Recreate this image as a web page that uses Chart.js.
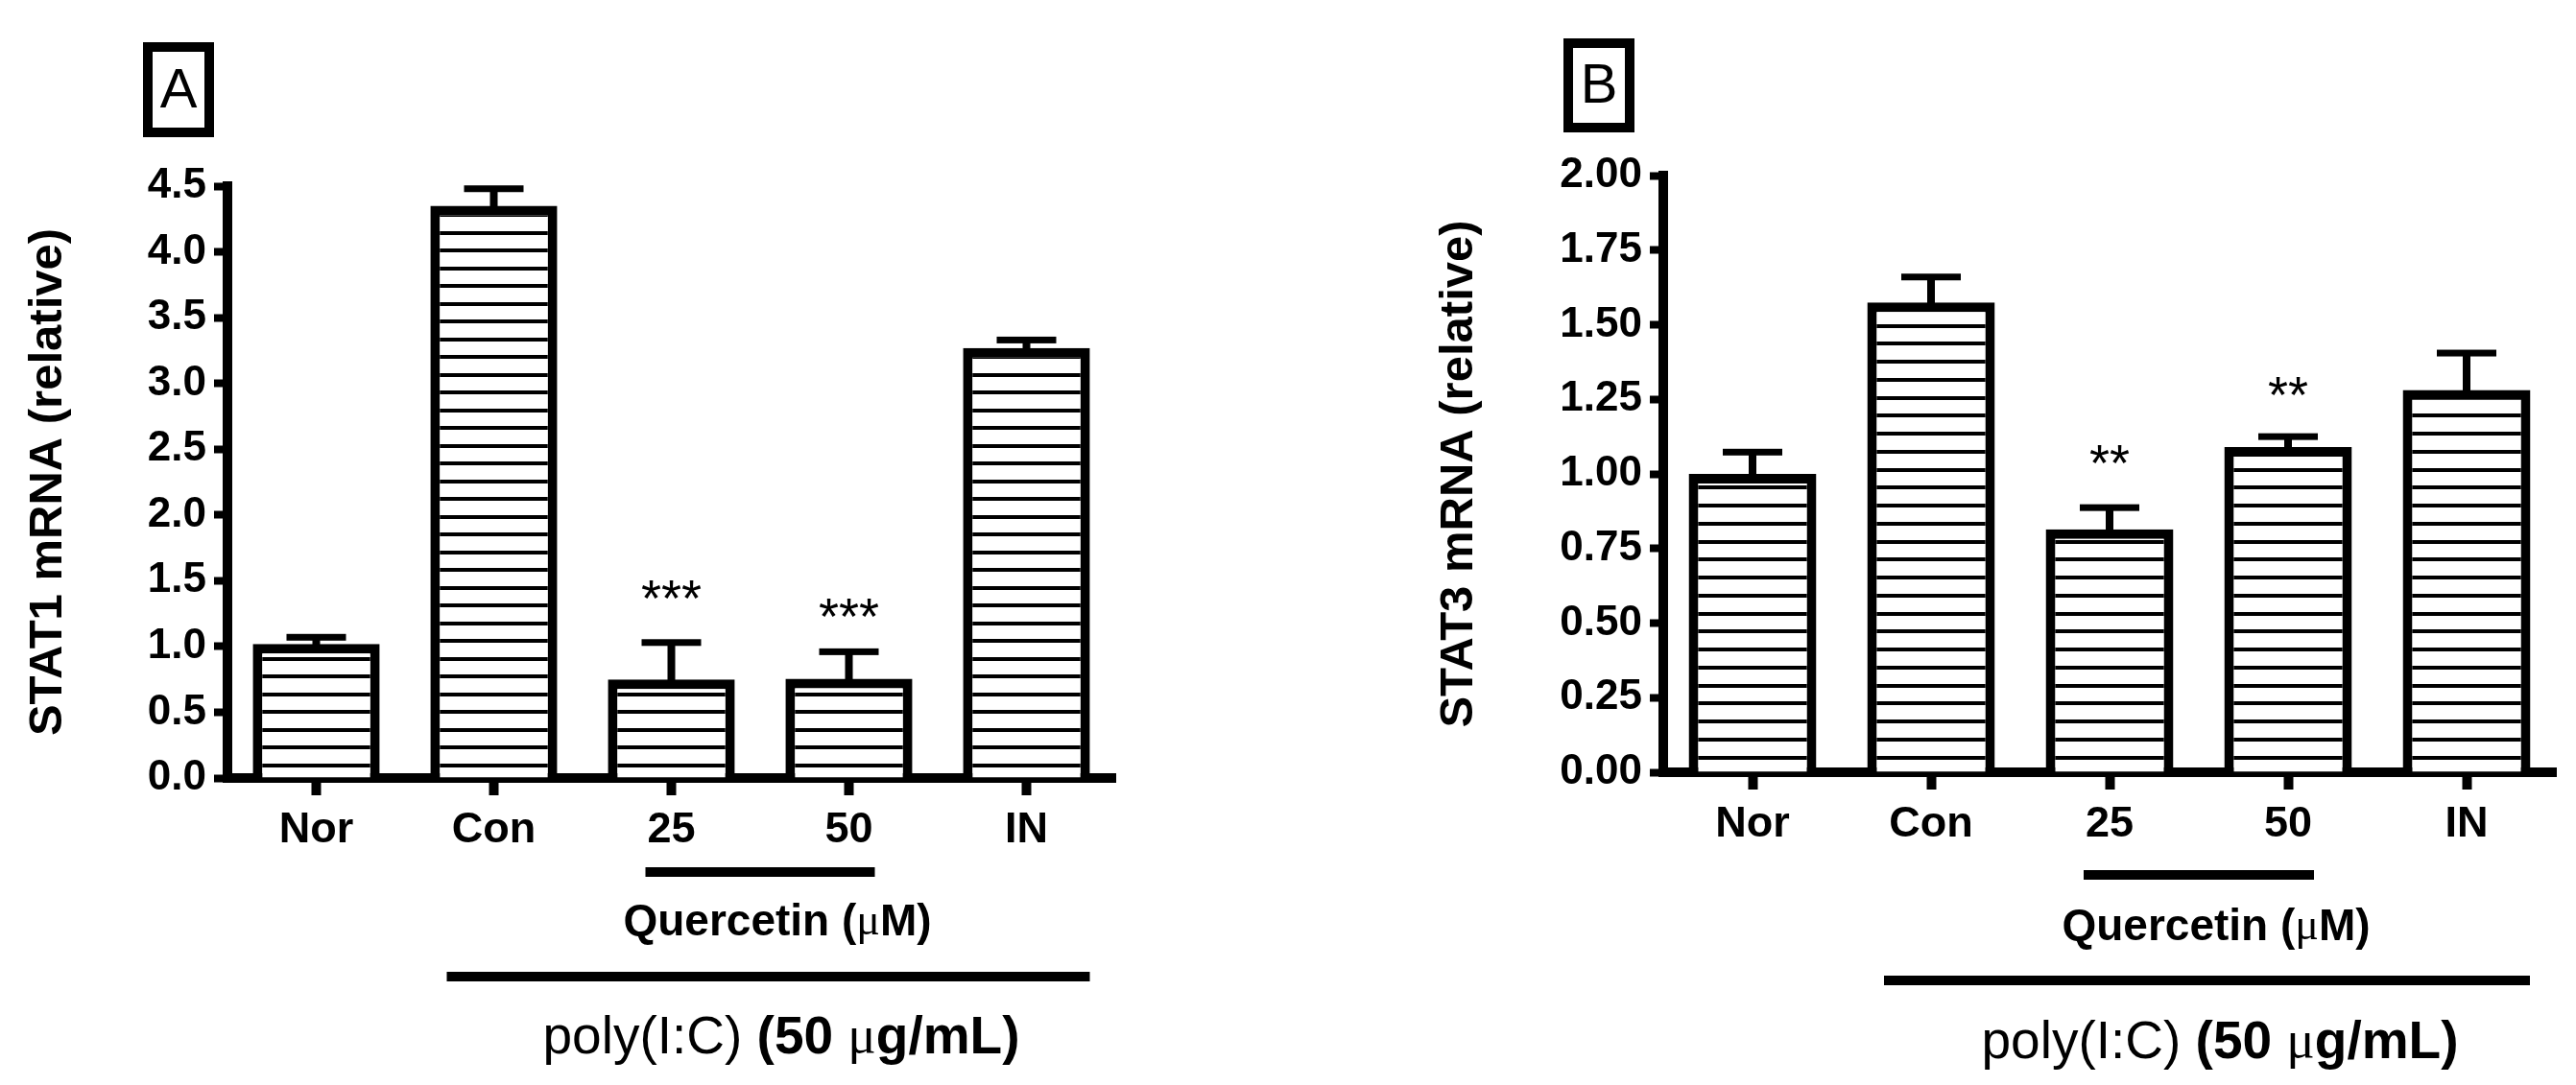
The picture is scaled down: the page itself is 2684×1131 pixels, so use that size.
<!DOCTYPE html>
<html>
<head>
<meta charset="utf-8">
<script src="https://cdn.jsdelivr.net/npm/chart.js@4.4.0/dist/chart.umd.min.js"></script>
<style>
  body { margin: 0; background: #fff; }
  .panel { position: absolute; top: 0; width: 1342px; height: 1131px; }
</style>
</head>
<body>
<div class="panel" style="left:0"><canvas id="chartA"></canvas></div>
<div class="panel" style="left:1342px"><canvas id="chartB"></canvas></div>
<script>
// groups on the x axis
const groups = ["Nor", "Con", "25", "50", "IN"];

// panel A - STAT1
const stat1Mean = [1.02, 4.35, 0.75, 0.755, 3.27];
const stat1Err = [0.05, 0.13, 0.28, 0.205, 0.06];
const stat1Stars = ["", "", "***", "***", ""];
const stat1StarAt = [null, null, 1.46, 1.32, null];
const stat1Ticks = [0, 0.5, 1, 1.5, 2, 2.5, 3, 3.5, 4, 4.5];

// panel B - STAT3
const stat3Mean = [1.0, 1.575, 0.814, 1.09, 1.281];
const stat3Err = [0.073, 0.085, 0.073, 0.035, 0.124];
const stat3Stars = ["", "", "**", "**", ""];
const stat3StarAt = [null, null, 1.078, 1.305, null];
const stat3Ticks = [0, 0.25, 0.5, 0.75, 1, 1.25, 1.5, 1.75, 2];

const fontFamily = "'Liberation Sans', Arial, sans-serif";
const serifFamily = "'Liberation Serif', 'Times New Roman', serif";

// horizontal line fill used inside the bars
const makeStripes = (canvas, period, repeat) => {
  const c = document.createElement("canvas");
  c.width = 8;
  c.height = Math.round(period * repeat);
  const g = c.getContext("2d");
  g.fillStyle = "#fff";
  g.fillRect(0, 0, c.width, c.height);
  g.fillStyle = "#000";
  for (let k = 0; k < repeat; k++) {
    g.fillRect(0, Math.round(k * period), c.width, 4);
  }
  return canvas.getContext("2d").createPattern(c, "repeat");
};

// write several font runs centred on one point
const drawRuns = (ctx, runs, cx, cy) => {
  let total = 0;
  runs.forEach((r) => {
    ctx.font = r.font;
    r.w = ctx.measureText(r.text).width;
    total += r.w;
  });
  let x = cx - total / 2;
  ctx.textAlign = "left";
  ctx.textBaseline = "middle";
  runs.forEach((r) => {
    ctx.font = r.font;
    ctx.fillText(r.text, x, cy);
    x += r.w;
  });
};

const errorBars = {
  id: "errorBars",
  afterDatasetsDraw(chart, args, opts) {
    const { ctx } = chart;
    const y = chart.scales.y;
    const meta = chart.getDatasetMeta(0);
    ctx.save();
    ctx.fillStyle = "#000";
    meta.data.forEach((bar, i) => {
      const top = y.getPixelForValue(opts.mean[i] + opts.err[i]);
      ctx.fillRect(bar.x - 4, top, 8, bar.y - top + 2);
      ctx.fillRect(bar.x - 31, top - 3.5, 62, 7);
      if (opts.stars[i]) {
        ctx.font = "54px " + fontFamily;
        ctx.textAlign = "center";
        ctx.textBaseline = "alphabetic";
        ctx.fillText(opts.stars[i], bar.x, y.getPixelForValue(opts.starAt[i]) + 31);
      }
    });
    ctx.restore();
  },
};

const annotations = {
  id: "annotations",
  afterDraw(chart, args, opts) {
    const { ctx } = chart;
    const x = chart.scales.x;
    const x1 = x.getPixelForValue(1);
    const x2 = x.getPixelForValue(2);
    const x3 = x.getPixelForValue(3);
    const x4 = x.getPixelForValue(4);
    ctx.save();
    ctx.fillStyle = "#000";
    // quercetin dose bracket
    ctx.fillRect(x2 - 27, opts.qLineY - 5, x3 - x2 + 54, 10);
    drawRuns(ctx, [
      { text: "Quercetin (", font: "bold 46px " + fontFamily },
      { text: "\u03bc", font: "46px " + serifFamily },
      { text: "M)", font: "bold 46px " + fontFamily },
    ], (x2 + x3) / 2 + 18, opts.qTextY);
    // poly(I:C) bracket
    ctx.fillRect(x1 - 49, opts.polyLineY - 5, x4 - x1 + 115, 10);
    drawRuns(ctx, [
      { text: "poly(I:C) ", font: "55px " + fontFamily },
      { text: "(50 ", font: "bold 55px " + fontFamily },
      { text: "\u03bc", font: "55px " + serifFamily },
      { text: "g/mL)", font: "bold 55px " + fontFamily },
    ], (x1 + x4) / 2 + 22, opts.polyTextY);
    // panel letter box
    const b = opts.box;
    ctx.lineWidth = 10;
    ctx.strokeStyle = "#000";
    ctx.strokeRect(b.x + 5, b.y + 5, b.w - 10, b.h - 10);
    ctx.font = "58px " + fontFamily;
    ctx.textAlign = "center";
    ctx.textBaseline = "middle";
    ctx.fillText(opts.letter, b.x + b.w / 2, b.y + b.h / 2 + 2);
    ctx.restore();
  },
};

const buildChart = (id, p) => {
  const canvas = document.getElementById(id);
  return new Chart(canvas, {
    type: "bar",
    data: {
      labels: groups,
      datasets: [
        {
          data: p.mean,
          backgroundColor: makeStripes(canvas, p.stripe, 4),
          borderColor: "#000",
          borderWidth: 10,
          barPercentage: 0.715,
          categoryPercentage: 1,
        },
      ],
    },
    options: {
      responsive: true,
      maintainAspectRatio: false,
      devicePixelRatio: 1,
      animation: false,
      layout: { padding: { left: 0, top: p.top, right: p.right, bottom: 0 } },
      plugins: {
        legend: { display: false },
        tooltip: { enabled: false },
        errorBars: { mean: p.mean, err: p.err, stars: p.stars, starAt: p.starAt },
        annotations: p.notes,
      },
      scales: {
        x: {
          offset: true,
          z: 1,
          afterFit: (s) => { s.height = p.xHeight; },
          border: { display: true, width: 10, color: "#000" },
          grid: {
            offset: false,
            drawOnChartArea: false,
            tickLength: 18,
            tickWidth: 10,
            tickColor: "#000",
            color: "#000",
          },
          ticks: {
            color: "#000",
            padding: 10,
            maxRotation: 0,
            autoSkip: false,
            font: { family: fontFamily, size: 45, weight: "bold" },
          },
        },
        y: {
          min: 0,
          max: p.ticks[p.ticks.length - 1],
          z: 1,
          afterFit: (s) => { s.width = p.yWidth; },
          afterBuildTicks: (s) => { s.ticks = p.ticks.map((v) => ({ value: v })); },
          border: { display: true, width: 10, color: "#000" },
          grid: {
            drawOnChartArea: false,
            tickLength: 14,
            tickWidth: 8,
            tickColor: "#000",
            color: "#000",
          },
          ticks: {
            color: "#000",
            padding: 8,
            font: { family: fontFamily, size: 44, weight: "bold" },
            callback: (v) => v.toFixed(p.decimals),
          },
          title: {
            display: true,
            text: p.title,
            color: "#000",
            font: { family: fontFamily, size: 49, weight: "bold" },
            padding: { top: p.titlePad, bottom: 0 },
          },
        },
      },
    },
    plugins: [errorBars, annotations],
  });
};

buildChart("chartA", {
  mean: stat1Mean,
  err: stat1Err,
  stars: stat1Stars,
  starAt: stat1StarAt,
  ticks: stat1Ticks,
  decimals: 1,
  title: "STAT1 mRNA (relative)",
  titlePad: 21,
  stripe: 18.5,
  top: 194,
  right: 180,
  yWidth: 237,
  xHeight: 320,
  notes: { qLineY: 909, qTextY: 962, polyLineY: 1018, polyTextY: 1083, letter: "A",
    box: { x: 149, y: 44, w: 74, h: 99 } },
});

buildChart("chartB", {
  mean: stat3Mean,
  err: stat3Err,
  stars: stat3Stars,
  starAt: stat3StarAt,
  ticks: stat3Ticks,
  decimals: 2,
  title: "STAT3 mRNA (relative)",
  titlePad: 149,
  stripe: 18.75,
  top: 183,
  right: 21,
  yWidth: 391,
  xHeight: 326,
  notes: { qLineY: 912, qTextY: 967, polyLineY: 1022, polyTextY: 1088, letter: "B",
    box: { x: 287, y: 40, w: 74, h: 98 } },
});
</script>
</body>
</html>
